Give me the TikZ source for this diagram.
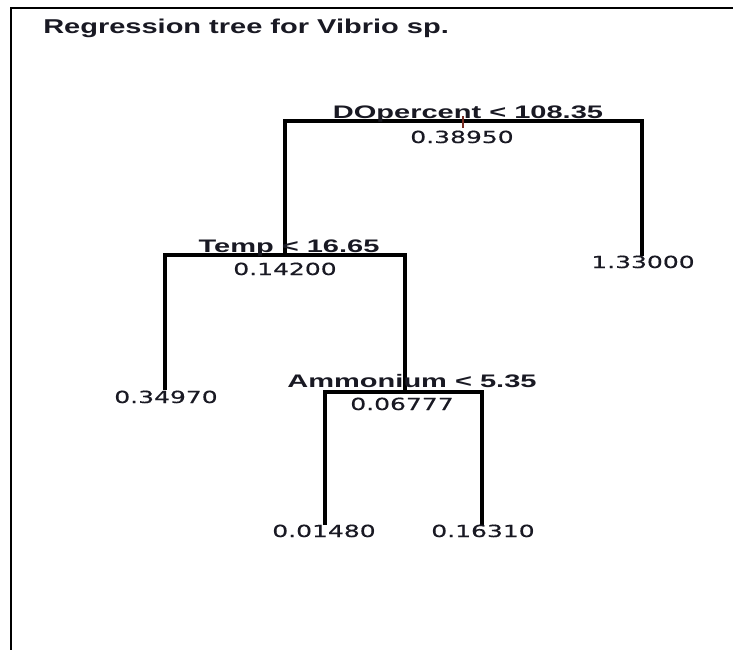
\documentclass[tikz,border=0pt]{standalone}
\usepackage{graphicx}
\usepackage{fontspec}
\setmainfont{Liberation Sans}
\newfontfamily\valfont[FakeBold=0.4]{DejaVu Sans}
\definecolor{inkc}{RGB}{25,25,35}
\definecolor{stemc}{RGB}{120,45,35}
\newcommand\TitleText[1]{\scalebox{1.45}[1]{\fontsize{15}{18}\selectfont\bfseries #1}}
\newcommand\SplitText[1]{\scalebox{1.6}[1]{\fontsize{13.6}{16}\selectfont\bfseries #1}}
\newcommand\ValText[1]{\scalebox{1.5}[1]{\valfont\fontsize{12.5}{15}\selectfont #1}}
\tikzset{
    branch/.style={line width=3pt, line join=miter},
    lab/.style={anchor=base, inner sep=0pt, text=inkc},
}

\begin{document}
\begin{tikzpicture}[x=0.75pt,y=-0.75pt]
    \useasboundingbox (0,0) rectangle (733,650);
    \draw[line width=2pt] (11,650) -- (11,8) -- (734,8);
    \node[lab, anchor=base west] (title) at (43,33) {\TitleText{Regression tree for Vibrio sp.}};
    % splits and leaves
    \coordinate (DO) at (463,121);
    \coordinate (Temp) at (285,255);
    \coordinate (Amm) at (405,392);
    \coordinate (LeafHigh) at (642,256);
    \coordinate (LeafCold) at (165,390);
    \coordinate (LeafLow) at (325,525);
    \coordinate (LeafMid) at (482,525);
    \draw[branch] (Temp) |- (DO) -| (LeafHigh);
    \draw[branch] (LeafCold) |- (Temp) -| (Amm);
    \draw[branch] (LeafLow) |- (Amm) -| (LeafMid);
    \draw[stemc, line width=0.8pt] (DO) ++(0,-5) -- ++(0,12);
    % labels
    \node[lab] (DOsplit) at (468,118) {\SplitText{DOpercent < 108.35}};
    \node[lab] (DOval) at (462,143) {\ValText{0.38950}};
    \node[lab] (Tempsplit) at (289,252) {\SplitText{Temp < 16.65}};
    \node[lab] (Tempval) at (285,275) {\ValText{0.14200}};
    \node[lab] (Ammsplit) at (412,387) {\SplitText{Ammonium < 5.35}};
    \node[lab] (Ammval) at (402,410) {\ValText{0.06777}};
    \node[lab] (HighVal) at (643,268) {\ValText{1.33000}};
    \node[lab] (ColdVal) at (166,403) {\ValText{0.34970}};
    \node[lab] (LowVal) at (324,537) {\ValText{0.01480}};
    \node[lab] (MidVal) at (483,537) {\ValText{0.16310}};
\end{tikzpicture}
\end{document}
